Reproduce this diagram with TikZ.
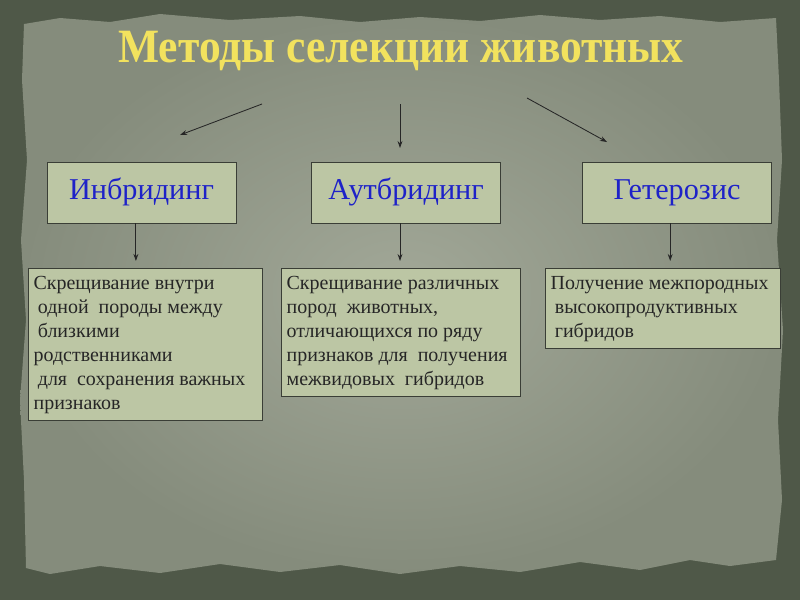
\documentclass[tikz,border=0pt]{standalone}
\usepackage{fontspec}
\setmainfont{Liberation Serif}
\usetikzlibrary{arrows.meta}
\definecolor{framecol}{HTML}{4F5848}
\definecolor{paperhi}{HTML}{A2A898}
\definecolor{paperlo}{HTML}{858C7C}
\definecolor{boxfill}{HTML}{BCC6A4}
\definecolor{boxline}{HTML}{3A3E36}
\definecolor{titlecol}{HTML}{F2E25E}
\definecolor{headcol}{HTML}{1E22C8}
\tikzset{
  headbox/.style={draw=boxline,fill=boxfill,line width=0.6pt,minimum width=4.725cm,minimum height=1.525cm,text height=14pt,text depth=4pt,font=\fontsize{21.5}{24}\selectfont,text=headcol},
  descbox/.style={draw=boxline,fill=boxfill,line width=0.6pt,anchor=north west,inner sep=0.13cm,font=\fontsize{14.2}{17}\selectfont,text=black!85},
  link/.style={line width=0.6pt,black!85,-{Stealth[length=5pt,width=3.5pt]}}
}
\newcommand{\desctext}[3]{\parbox[c][#2][t]{#1}{\raggedright\vspace*{2pt}#3}}
\begin{document}
\begin{tikzpicture}[x=0.025cm,y=-0.025cm]
\useasboundingbox (0,0) rectangle (800,600);
% background
\fill[framecol] (0,0) rectangle (800,600);
\shade[inner color=paperhi,outer color=paperlo]
  (24,24) -- (60,18) -- (110,22) -- (160,14) -- (230,20) -- (300,16) -- (360,22) -- (420,17) -- (480,21) -- (540,15) -- (600,20) -- (660,16) -- (720,22) -- (776,18)
  -- (779,80) -- (782,160) -- (777,240) -- (783,330) -- (778,420) -- (782,500) -- (776,560)
  -- (730,566) -- (690,560) -- (640,570) -- (580,562) -- (520,572) -- (460,566) -- (400,574) -- (340,565) -- (280,572) -- (220,564) -- (160,573) -- (100,566) -- (50,574) -- (26,568)
  -- (24,480) -- (20,400) -- (26,320) -- (21,240) -- (27,160) -- (22,80) -- cycle;

% title
\node[font=\bfseries\fontsize{34}{36}\selectfont,text=titlecol] (title) at (401,51) {\scalebox{0.91}[1]{Методы селекции животных}};

% methods
\node[headbox] (inb) at (141.5,192.5) {Инбридинг};
\node[headbox] (aut) at (406,192.5) {Аутбридинг};
\node[headbox] (het) at (677,192.5) {Гетерозис};

% descriptions
\node[descbox] (dinb) at (28,268) {\desctext{5.59cm}{3.54cm}{Скрещивание внутри\\
  \hspace*{3pt}одной\ \ породы между\\
  \hspace*{3pt}близкими\\
  родственниками\\
  \hspace*{3pt}для\ \ сохранения важных\\
  признаков}};
\node[descbox] (daut) at (281,268) {\desctext{5.715cm}{2.94cm}{Скрещивание различных\\
  пород\ \ животных,\\
  отличающихся по ряду\\
  признаков для\ \ получения\\
  межвидовых\ \ гибридов}};
\node[descbox] (dhet) at (545,268) {\desctext{5.615cm}{1.74cm}{Получение межпородных\\
  \hspace*{3pt}высокопродуктивных\\
  \hspace*{3pt}гибридов}};

% arrows from the title
\coordinate (s1) at (262,104);
\coordinate (e1) at (180,135);
\coordinate (s2) at (400,104);
\coordinate (e2) at (400,148);
\coordinate (s3) at (527,98);
\coordinate (e3) at (607,142);
\draw[link] (s1) -- (e1);
\draw[link] (s2) -- (e2);
\draw[link] (s3) -- (e3);

% arrows to descriptions
\draw[link,shorten >=5pt] ([xshift=-0.14cm]inb.south) -- ([xshift=-0.14cm]inb.south |- dinb.north);
\draw[link,shorten >=5pt] ([xshift=-0.15cm]aut.south) -- ([xshift=-0.15cm]aut.south |- daut.north);
\draw[link,shorten >=5pt] ([xshift=-0.17cm]het.south) -- ([xshift=-0.17cm]het.south |- dhet.north);
\end{tikzpicture}
\end{document}
